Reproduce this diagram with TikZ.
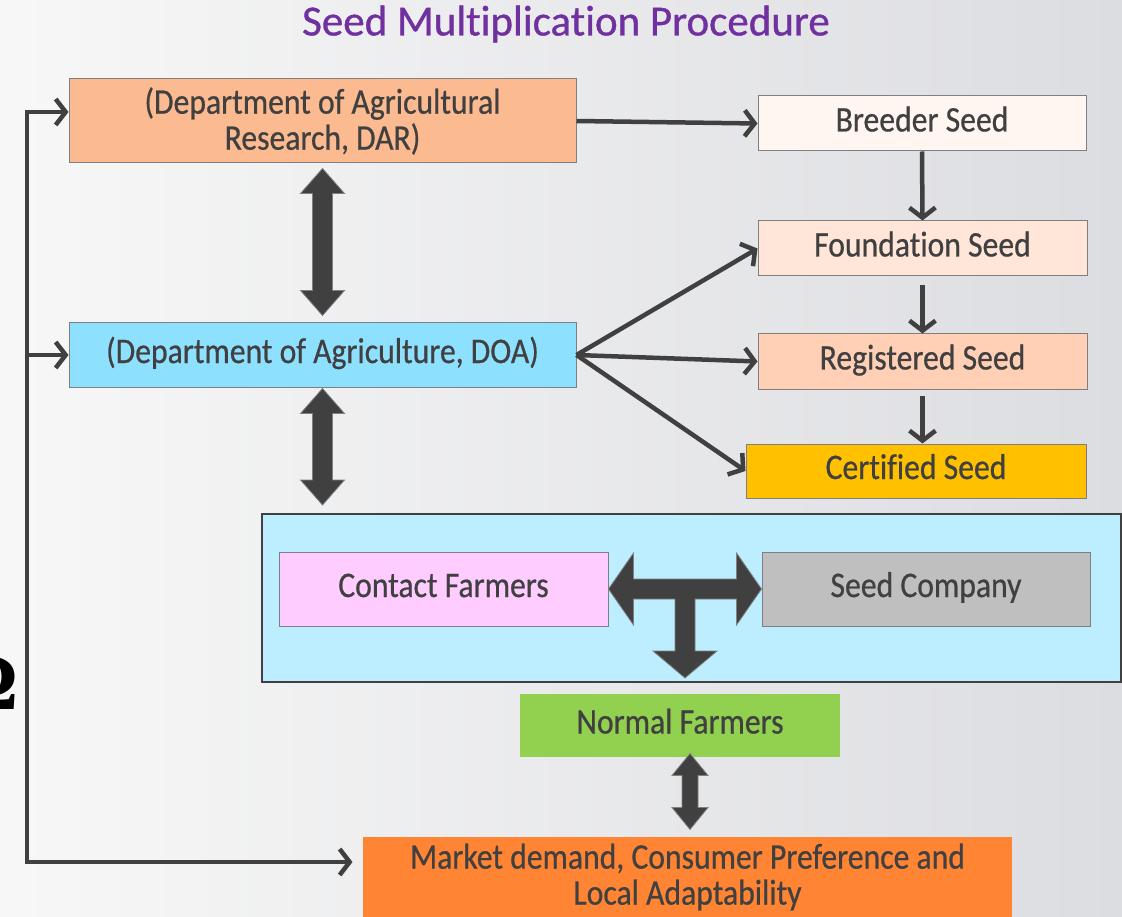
\documentclass[tikz,border=0pt]{standalone}
\usepackage{fontspec}
\setmainfont[FakeStretch=0.88,FakeBold=0.6,Ligatures=NoCommon]{Carlito}
\newfontfamily\titlefont[FakeBold=0.8,Ligatures=NoCommon]{Carlito}
\newfontfamily\parenfont{Liberation Serif}
\usetikzlibrary{arrows.meta,calc}
\definecolor{txt}{HTML}{404040}
\definecolor{ctitle}{HTML}{7030A0}
\definecolor{cdar}{HTML}{FCBA90}
\definecolor{cbreed}{HTML}{FFF6F2}
\definecolor{cfound}{HTML}{FFE6D8}
\definecolor{creg}{HTML}{FFD0B5}
\definecolor{ccert}{HTML}{FFC000}
\definecolor{cdoa}{HTML}{8EE0FF}
\definecolor{ccont}{HTML}{BCEEFF}
\definecolor{ccontact}{HTML}{FFCCFF}
\definecolor{ccomp}{HTML}{BFBFBF}
\definecolor{cnormal}{HTML}{92D050}
\definecolor{cmarket}{HTML}{FF8534}
\definecolor{boxline}{HTML}{7F7F7F}
\definecolor{bgright}{HTML}{DCDDE1}
\newcommand\blockvv[5]{%
\fill[blk] let \p1=#1, \p2=#2 in (\x1,\y1) -- (\x1+#4,\y1-#5) -- (\x1+#3,\y1-#5) -- (\x1+#3,\y2+#5) -- (\x1+#4,\y2+#5) -- (\x1,\y2) -- (\x1-#4,\y2+#5) -- (\x1-#3,\y2+#5) -- (\x1-#3,\y1-#5) -- (\x1-#4,\y1-#5) -- cycle;}
\begin{document}
\begin{tikzpicture}[x=1pt,y=-1pt,
  box/.style={draw=boxline, line width=1pt, inner sep=0pt, text=txt, align=center,
    font=\fontsize{36}{36}\selectfont},
  one/.style={text height=26pt, text depth=10pt},
  conn/.style={draw=txt, line width=4.5pt, -{Straight Barb[length=10pt,width=26pt]}},
  blk/.style={fill=txt, draw=gray, line width=0.8pt}]
\useasboundingbox (0,0) rectangle (1122,917);
\shade[left color=white!97!black, right color=bgright] (0,0) rectangle (1122,917);

\node[font=\titlefont\fontsize{43}{45}\selectfont, text=ctitle] (title) at (566,24) {Seed Multiplication Procedure};
\node[font=\parenfont\bfseries\fontsize{80}{80}\selectfont, anchor=east, inner sep=0pt] (paren) at (19,683) {Ω};

\node[box, fill=cdar, minimum width=507pt, minimum height=84pt] (dar) at (322.5,121) {(Department of Agricultural\\Research, DAR)};
\node[box, one, fill=cbreed, minimum width=328pt, minimum height=55pt] (breed) at (922,123.5) {Breeder Seed};
\node[box, one, fill=cfound, minimum width=329pt, minimum height=55pt] (found) at (922.5,248.5) {Foundation Seed};
\node[box, one, fill=creg, minimum width=329pt, minimum height=55pt] (reg) at (922.5,361.5) {Registered Seed};
\node[box, one, fill=ccert, minimum width=340pt, minimum height=54pt] (cert) at (916,471) {Certified Seed};
\node[box, one, fill=cdoa, minimum width=507pt, minimum height=64pt] (doa) at (322.5,355) {(Department of Agriculture, DOA)};
\node[draw=txt, line width=2pt, fill=ccont, minimum width=859pt, minimum height=168pt, inner sep=0pt] (cont) at (691.5,598) {};
\node[box, one, fill=ccontact, minimum width=329pt, minimum height=74pt] (contact) at (443.5,589) {Contact Farmers};
\node[box, one, fill=ccomp, minimum width=328pt, minimum height=74pt] (comp) at (926,589) {Seed Company};
\node[box, one, draw=none, fill=cnormal, minimum width=320pt, minimum height=63pt] (normal) at (680,725.5) {Normal Farmers};
\node[box, draw=none, fill=cmarket, minimum width=649pt, minimum height=80pt] (market) at (687.5,877) {Market demand, Consumer Preference and\\Local Adaptability};

% thin connectors
\draw[conn] (dar.east) -- (breed.west);
\draw[conn] (breed.south) -- (found.north);
\draw[conn] ($(found.south)+(0,9)$) -- (reg.north);
\draw[conn] ($(reg.south)+(0,6)$) -- (reg.south |- cert.north);
\draw[conn] (doa.east) -- (found.west);
\draw[conn] (doa.east) -- (reg.west);
\draw[conn] (doa.east) -- (cert.west);

% feedback loop
\coordinate (fbtop) at (27,112);
\coordinate (fbbot) at (27,862);
\draw[conn] (fbbot) -- (fbtop) -- (fbtop -| dar.west);
\draw[conn] (fbtop) -- (fbbot) -- ($(fbbot -| market.west)+(-10,0)$);
\draw[conn] (fbtop |- doa.west) -- (doa.west);

% block arrows
\blockvv{($(dar.south)+(0,5)$)}{($(doa.north)+(0,-7)$)}{10pt}{22pt}{25pt}
\blockvv{($(doa.south)+(0,1)$)}{($(cont.north)+(0,-8)$)}{10pt}{22pt}{25pt}
\blockvv{($(normal.south)+(10,-4)$)}{($(market.north)+(10,-7)$)}{8pt}{18pt}{22pt}

% T arrow
\fill[blk] let \p1=(contact.east), \p2=(comp.west), \p3=($(cont.south)+(0,-5)$) in
  (\x1,\y1) -- (\x1+25pt,\y1+36pt) -- (\x1+25pt,\y1+10pt) -- (\x2-25pt,\y1+10pt)
  -- (\x2-25pt,\y1+36pt) -- (\x2,\y1) -- (\x2-25pt,\y1-36pt) -- (\x2-25pt,\y1-10pt)
  -- ({(\x1+\x2)/2+10pt},\y1-10pt) -- ({(\x1+\x2)/2+10pt},\y3+27pt) -- ({(\x1+\x2)/2+32pt},\y3+27pt)
  -- ({(\x1+\x2)/2},\y3) -- ({(\x1+\x2)/2-32pt},\y3+27pt) -- ({(\x1+\x2)/2-10pt},\y3+27pt)
  -- ({(\x1+\x2)/2-10pt},\y1-10pt) -- (\x1+25pt,\y1-10pt) -- (\x1+25pt,\y1-36pt) -- cycle;
\end{tikzpicture}
\end{document}
